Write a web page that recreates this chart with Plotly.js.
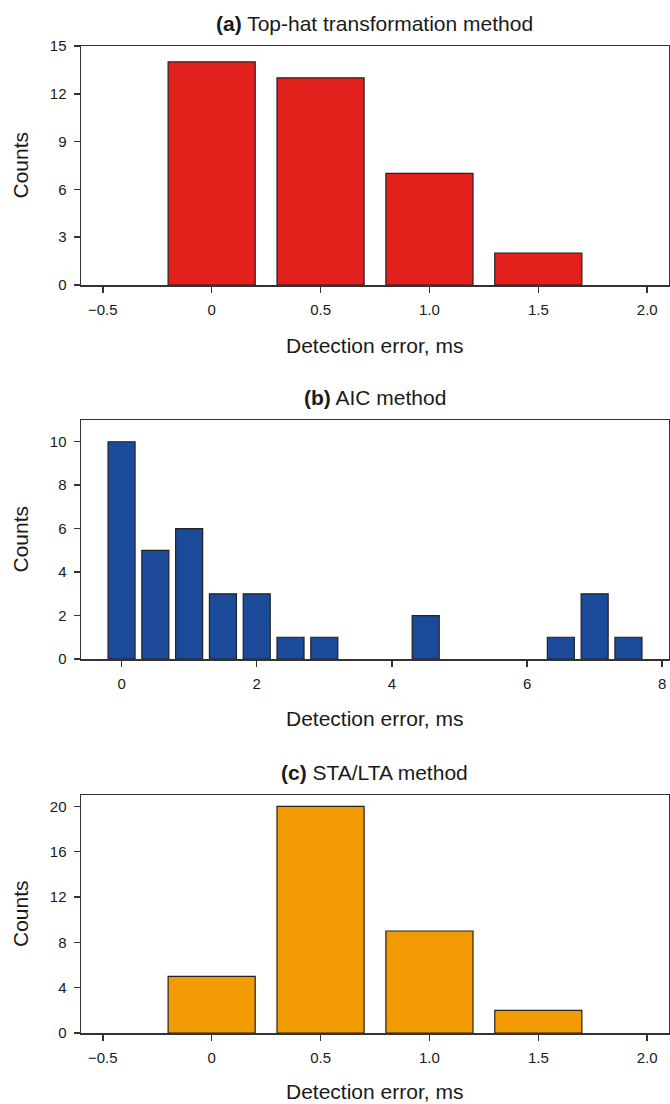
<!DOCTYPE html>
<html>
<head>
<meta charset="utf-8">
<script src="https://cdn.plot.ly/plotly-3.0.1.min.js"></script>
<style>html,body{margin:0;padding:0;background:#fff;}#chart{width:670px;height:1104px;}</style>
</head>
<body>
<div id="chart"></div>
<script>
// ---- data ----
const binsA = [0, 0.5, 1.0, 1.5];
const countsA = [14, 13, 7, 2];

const binsB = [0, 0.5, 1.0, 1.5, 2.0, 2.5, 3.0, 3.5, 4.0, 4.5, 5.0, 5.5, 6.0, 6.5, 7.0, 7.5];
const countsB = [10, 5, 6, 3, 3, 1, 1, 0, 0, 2, 0, 0, 0, 1, 3, 1];

const binsC = [0, 0.5, 1.0, 1.5];
const countsC = [5, 20, 9, 2];

const xTickValsAC = [-0.5, 0, 0.5, 1.0, 1.5, 2.0];
const xTickTextAC = ["\u22120.5", "0", "0.5", "1.0", "1.5", "2.0"];
const xTickValsB = [0, 2, 4, 6, 8];
const xTickTextB = ["0", "2", "4", "6", "8"];

const titles = ["<b>(a)</b> Top-hat transformation method", "<b>(b)</b> AIC method", "<b>(c)</b> STA/LTA method"];
const xTitle = "Detection error, ms";
const yTitle = "Counts";

// empty bins are not drawn (no outline at zero height)
function nonEmpty(xs, ys) {
  const ox = [], oy = [];
  xs.forEach((x, i) => { if (ys[i] > 0) { ox.push(x); oy.push(ys[i]); } });
  return {x: ox, y: oy};
}

// ---- layout geometry (pixels) ----
const W = 670, H = 1104;
const left = 81, right = 669;
const panels = [
  {top: 46, bottom: 285, titleY: 23, xTitleY: 345},
  {top: 420, bottom: 659, titleY: 397, xTitleY: 718},
  {top: 795, bottom: 1033, titleY: 772, xTitleY: 1091}
];
const fy = p => 1 - p / H;
const fx = p => p / W;

const lineCol = '#333333';
const fontFam = 'Liberation Sans, Arial, Helvetica, sans-serif';
const textCol = '#1a1a1a';

const barLine = {color: '#222222', width: 1.2};
const dA = nonEmpty(binsA, countsA), dB = nonEmpty(binsB, countsB), dC = nonEmpty(binsC, countsC);
const traces = [
  {type: 'bar', x: dA.x, y: dA.y, width: 0.4, xaxis: 'x', yaxis: 'y',
   marker: {color: '#E3211C', line: barLine}},
  {type: 'bar', x: dB.x, y: dB.y, width: 0.4, xaxis: 'x2', yaxis: 'y2',
   marker: {color: '#1B4A9B', line: barLine}},
  {type: 'bar', x: dC.x, y: dC.y, width: 0.4, xaxis: 'x3', yaxis: 'y3',
   marker: {color: '#F29A02', line: barLine}}
];

function xAxis(range, vals, text, anchor) {
  return {
    domain: [fx(left), fx(right)], anchor: anchor, range: range,
    tickmode: 'array', tickvals: vals, ticktext: text,
    ticks: 'outside', ticklen: 6, tickwidth: 1.5, tickcolor: lineCol,
    showline: true, linecolor: lineCol, linewidth: 1.5, mirror: true,
    showgrid: false, zeroline: false, fixedrange: true,
    tickfont: {family: fontFam, size: 15, color: textCol},
    ticklabelstandoff: 4
  };
}
function yAxis(p, range, dtick, anchor) {
  return {
    domain: [fy(p.bottom), fy(p.top)], anchor: anchor, range: range,
    tickmode: 'linear', tick0: 0, dtick: dtick,
    ticks: 'outside', ticklen: 6, tickwidth: 1.5, tickcolor: lineCol,
    showline: true, linecolor: lineCol, linewidth: 1.5, mirror: true,
    showgrid: false, zeroline: false, fixedrange: true,
    tickfont: {family: fontFam, size: 15, color: textCol},
    ticklabelstandoff: 4
  };
}

const annotations = [];
panels.forEach((p, i) => {
  annotations.push({text: titles[i], xref: 'paper', yref: 'paper', x: fx((left + right) / 2), y: fy(p.titleY),
    xanchor: 'center', yanchor: 'middle', showarrow: false, font: {family: fontFam, size: 21, color: textCol}});
  annotations.push({text: xTitle, xref: 'paper', yref: 'paper', x: fx((left + right) / 2), y: fy(p.xTitleY),
    xanchor: 'center', yanchor: 'middle', showarrow: false, font: {family: fontFam, size: 21, color: textCol}});
  annotations.push({text: yTitle, xref: 'paper', yref: 'paper', x: fx(20), y: fy((p.top + p.bottom) / 2),
    xanchor: 'center', yanchor: 'middle', textangle: -90, showarrow: false, font: {family: fontFam, size: 21, color: textCol}});
});

const layout = {
  width: W, height: H,
  margin: {l: 0, r: 0, t: 0, b: 0},
  paper_bgcolor: '#ffffff', plot_bgcolor: '#ffffff',
  showlegend: false, bargap: 0,
  font: {family: fontFam, color: textCol},
  xaxis: xAxis([-0.6, 2.1], xTickValsAC, xTickTextAC, 'y'),
  yaxis: yAxis(panels[0], [0, 15], 3, 'x'),
  xaxis2: xAxis([-0.6, 8.1], xTickValsB, xTickTextB, 'y2'),
  yaxis2: yAxis(panels[1], [0, 11], 2, 'x2'),
  xaxis3: xAxis([-0.6, 2.1], xTickValsAC, xTickTextAC, 'y3'),
  yaxis3: yAxis(panels[2], [0, 21], 4, 'x3'),
  annotations: annotations
};

Plotly.newPlot('chart', traces, layout, {displayModeBar: false, staticPlot: true});
</script>
</body>
</html>
